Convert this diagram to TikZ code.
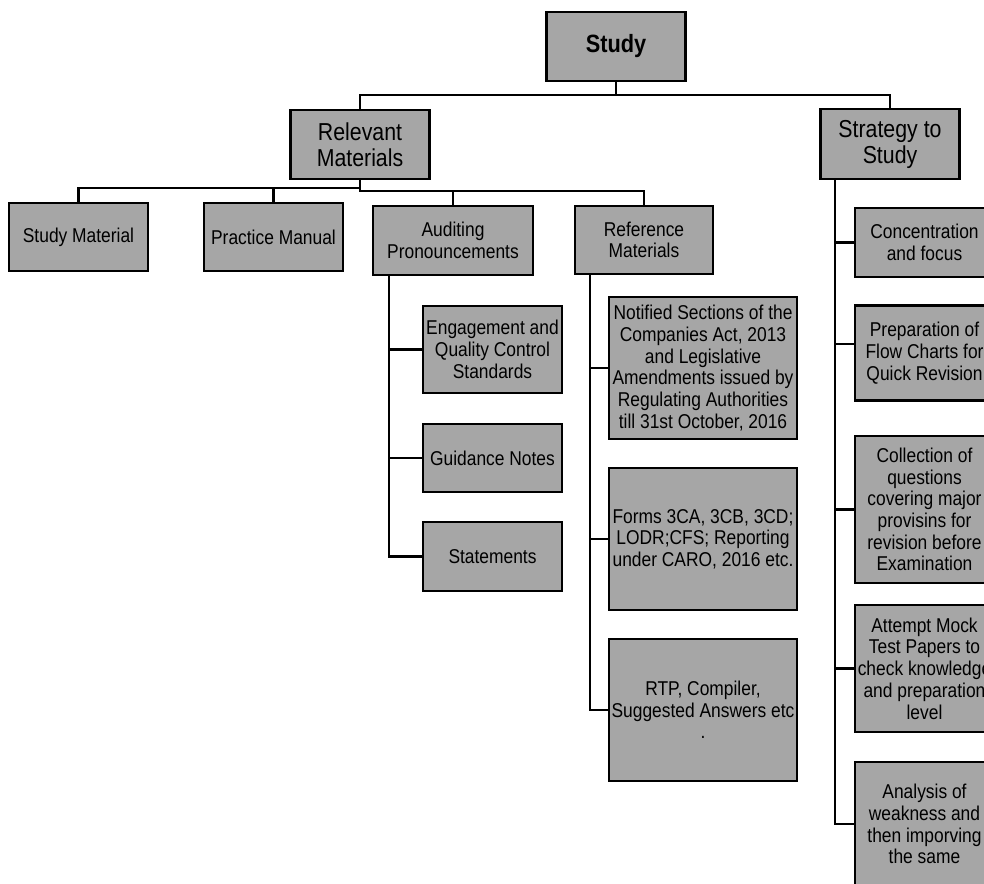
\documentclass[tikz,border=0pt]{standalone}
\usepackage{fontspec}
\setmainfont{Liberation Sans}[FakeStretch=0.87]
\usetikzlibrary{calc}
\definecolor{boxfill}{RGB}{166,166,166}
\begin{document}
\begin{tikzpicture}[x=1pt,y=-1pt,
  box/.style={draw=black,line width=2.6pt,fill=boxfill,align=center,inner sep=1pt,
    minimum width=139pt,font=\fontsize{20}{21.7}\selectfont},
  headbox/.style={box,font=\fontsize{24.5}{26}\selectfont},
  rootbox/.style={box,font=\fontsize{25}{28}\selectfont\bfseries},
  link/.style={line width=2.5pt}]
\useasboundingbox (0,0) rectangle (984,883);
\clip (0,0) rectangle (984,883);

% root and first level
\node[rootbox,minimum height=69pt] (study) at (616,46.5) {Study};
\node[headbox,minimum height=69pt] (rel) at (360,144.5) {Relevant\\Materials};
\node[headbox,minimum height=70pt] (strat) at (890,144) {Strategy to\\Study};

% materials
\node[box,minimum height=68pt] (sm) at (78.5,237) {Study Material};
\node[box,minimum height=68pt] (pm) at (273.5,237) {Practice Manual};
\node[box,minimum width=160pt,minimum height=69pt] (aud) at (453,240.5) {Auditing\\Pronouncements};
\node[box,minimum width=138pt,minimum height=68pt] (ref) at (644,240) {Reference\\Materials};

% auditing pronouncements
\node[box,minimum height=87pt] (eng) at (492.5,349.5) {Engagement and\\Quality Control\\Standards};
\node[box,minimum height=68pt] (guid) at (492.5,458) {Guidance Notes};
\node[box,minimum height=69pt] (stat) at (492.5,556.5) {Statements};

% reference materials
\node[box,minimum width=188pt,minimum height=142pt] (notif) at (703,368)
  {Notified Sections of the\\Companies Act, 2013\\and Legislative\\Amendments issued by\\Regulating Authorities\\till 31st October, 2016};
\node[box,minimum width=188pt,minimum height=142pt] (forms) at (703,539)
  {Forms 3CA, 3CB, 3CD;\\LODR;CFS; Reporting\\under CARO, 2016 etc.};
\node[box,minimum width=188pt,minimum height=142pt] (rtp) at (703,710)
  {RTP, Compiler,\\Suggested Answers etc\\.};

% strategy
\node[box,minimum height=69pt] (conc) at (924.5,242.5) {Concentration\\and focus};
\node[box,minimum height=95pt] (prep) at (924.5,353) {Preparation of\\Flow Charts for\\Quick Revision};
\node[box,minimum height=147pt] (coll) at (924.5,509.5) {Collection of\\questions\\covering major\\provisins for\\revision before\\Examination};
\node[box,minimum height=127pt] (att) at (924.5,668.5) {Attempt Mock\\Test Papers to\\check knowledge\\and preparation\\level};
\node[box,minimum height=124pt] (anal) at (924.5,824) {Analysis of\\weakness and\\then imporving\\the same};

% trunk positions
\coordinate (at) at (389,0);
\coordinate (rt) at (590,0);
\coordinate (st) at (835,0);

% top level connectors
\draw[link] (study.south) -- (study.south |- 0,95);
\draw[link] (rel.north) -- (rel.north |- 0,95) -- (strat.north |- 0,95) -- (strat.north);

% relevant materials connectors
\draw[link] (rel.south) -- (rel.south |- 0,191) -- (ref.north |- 0,191) -- (ref.north);
\draw[link] (aud.north) -- (aud.north |- 0,191);
\draw[link] (rel.south |- 0,188) -- (sm.north |- 0,188) -- (sm.north);
\draw[link] (pm.north) -- (pm.north |- 0,188);

% auditing pronouncements trunk
\draw[link] (aud.south -| at) |- (stat.west);
\draw[link] (eng.west -| at) -- (eng.west);
\draw[link] (guid.west -| at) -- (guid.west);

% reference materials trunk
\draw[link] (ref.south -| rt) |- (rtp.west);
\draw[link] (notif.west -| rt) -- (notif.west);
\draw[link] (forms.west -| rt) -- (forms.west);

% strategy trunk
\draw[link] (strat.south -| st) |- (anal.west);
\draw[link] (conc.west -| st) -- (conc.west);
\draw[link] ($(prep.west -| st)+(0,-9)$) -- ($(prep.west)+(0,-9)$);
\draw[link] (coll.west -| st) -- (coll.west);
\draw[link] (att.west -| st) -- (att.west);
\end{tikzpicture}
\end{document}
